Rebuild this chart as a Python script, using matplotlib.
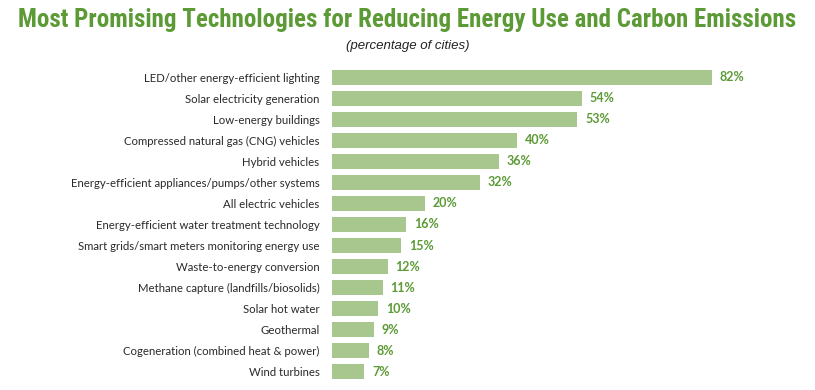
import matplotlib
matplotlib.use("Agg")
import matplotlib.pyplot as plt

categories = [
    "LED/other energy-efficient lighting",
    "Solar electricity generation",
    "Low-energy buildings",
    "Compressed natural gas (CNG) vehicles",
    "Hybrid vehicles",
    "Energy-efficient appliances/pumps/other systems",
    "All electric vehicles",
    "Energy-efficient water treatment technology",
    "Smart grids/smart meters monitoring energy use",
    "Waste-to-energy conversion",
    "Methane capture (landfills/biosolids)",
    "Solar hot water",
    "Geothermal",
    "Cogeneration (combined heat & power)",
    "Wind turbines",
]
values = [82, 54, 53, 40, 36, 32, 20, 16, 15, 12, 11, 10, 9, 8, 7]

W, H = 815, 390
fig = plt.figure(figsize=(W / 100, H / 100), dpi=100)
left, right = 332, 795
top, bottom = 66.5, 382.5
ax = fig.add_axes([left / W, 1 - bottom / H, (right - left) / W, (bottom - top) / H])

bar_color = "#a7c78f"
green = "#5b9a35"
ypos = list(range(len(categories)))
ax.barh(ypos, values, height=0.71, color=bar_color, edgecolor="none")
ax.set_xlim(0, 100)
ax.set_ylim(len(categories) - 0.5, -0.5)
ax.set_yticks(ypos)
ax.set_yticklabels(categories, fontsize=8.2, color="#2a2a2a", family=["Lato", "DejaVu Sans"])
ax.tick_params(axis="y", length=0, pad=9)
ax.set_xticks([])
for s in ax.spines.values():
    s.set_visible(False)

for y, v in zip(ypos, values):
    ax.annotate(f"{v}%", xy=(v, y), xytext=(5.5, 0), textcoords="offset points",
                va="center", ha="left", fontsize=9, fontweight="bold", color=green,
                family=["Lato", "DejaVu Sans"])

fig.text(0.5, 1 - 20 / H, "Most Promising Technologies for Reducing Energy Use and Carbon Emissions",
         ha="center", va="center", fontsize=18, fontweight="bold", color=green,
         family=["Roboto Condensed", "Roboto", "DejaVu Sans"])
fig.text(0.5, 1 - 46 / H, "(percentage of cities)", ha="center", va="center",
         fontsize=9.5, style="italic", color="#222222", family="Liberation Sans")

fig.savefig("out.png", dpi=100)
